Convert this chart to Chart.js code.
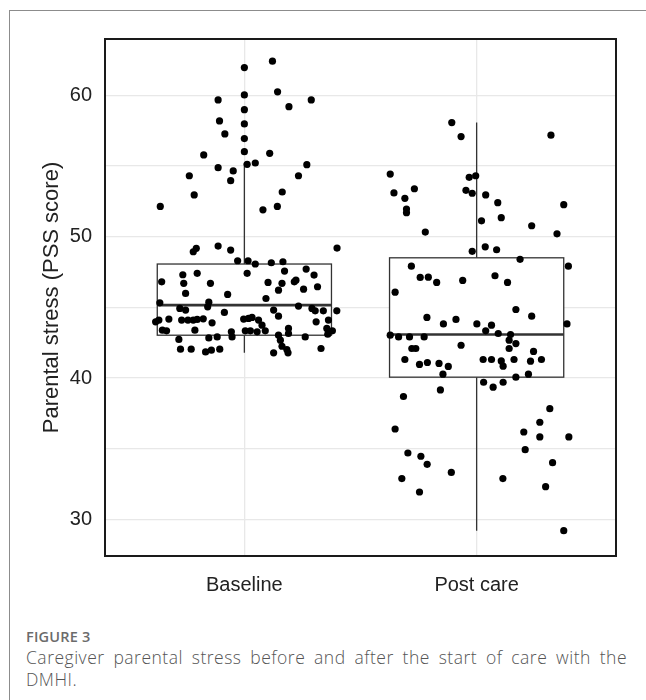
<!DOCTYPE html>
<html lang="en">
<head>
  <meta charset="UTF-8">
  <title>Parental stress box plot</title>
  <script src="https://cdn.jsdelivr.net/npm/chart.js"></script>
  <style>
    html, body { margin: 0; padding: 0; background: #fff; }
    body { width: 646px; height: 700px; position: relative; overflow: hidden; }
    .card {
      position: absolute; left: 9px; top: 10px; right: -2px; bottom: -2px;
      border-left: 1px solid #8c8c8c; border-top: 1px solid #8c8c8c;
    }
    #stressChart { position: absolute; left: 0; top: 0; }
    .fig-label {
      position: absolute; left: 26px; top: 627px;
      font-family: "Open Sans", sans-serif; font-size: 14.5px; font-weight: 600;
      color: #6b6b6b; letter-spacing: 0.2px;
    }
    .fig-caption {
      position: absolute; left: 26px; top: 646px; width: 601px;
      font-family: "Open Sans", sans-serif; font-size: 17.5px; font-weight: 300;
      line-height: 22px; color: #555; text-align: justify; letter-spacing: 0.5px;
    }
  </style>
</head>
<body>
  <div class="card"></div>
  <canvas id="stressChart" width="646" height="620"></canvas>
  <div class="fig-label">FIGURE 3</div>
  <div class="fig-caption">Caregiver parental stress before and after the start of care with the DMHI.</div>

  <script>
    // categories and axis ticks
    const categories = ['Baseline', 'Post care'];
    const yGridValues = [30, 35, 40, 45, 50, 55, 60];
    const yTickLabels = [30, 40, 50, 60];

    // box plot summaries (one entry per category)
    const whiskerLow = [41.78, 29.19];
    const boxQ1 = [43.03, 40.06];
    const boxMedian = [45.16, 43.08];
    const boxQ3 = [48.07, 48.51];
    const whiskerHigh = [55.22, 58.08];

    // jittered points: horizontal jitter (in category units) and PSS score
    const baselineJitter = [
      0.121, 0, 0.143, 0, -0.113, 0.288, 0.192, 0, -0.107, 0, -0.084, 0, -0.175, 0,
      0.109, 0.012, 0.047, 0.269, -0.113, -0.048, -0.237, 0.233, -0.059, 0.163, -0.216, -0.362, 0.142, 0.080,
      -0.220, -0.207, -0.113, -0.059, 0.399, -0.029, 0.016, 0.047, 0.116, 0.166,
      -0.265, -0.261, -0.203, -0.146, -0.356, 0.012, -0.253, -0.072, 0.173, 0.266,
      0.300, 0.102, 0.162, 0.147, 0.222, 0.215, 0.255, 0.315, 0.093, -0.364,
      -0.153, -0.158, -0.278, -0.253, -0.086, 0.233, 0.126, 0.147, 0.291, 0.305,
      0.340, 0.398, -0.325, -0.382, -0.368, -0.270, -0.243, -0.220, -0.203, -0.177,
      -0.139, -0.003, 0.018, 0.033, 0.061, 0.076, 0.309, 0.362, 0.355, 0.379,
      0.359, -0.353, -0.335, -0.213, -0.056, -0.053, -0.153, -0.117, -0.282, 0.004,
      0.026, 0.055, 0.090, 0.190, 0.190, 0.147, 0.155, 0.262, -0.275, -0.229,
      -0.167, -0.142, -0.106, 0.162, 0.183, 0.188, 0.126, 0.330
    ];
    const baselineScores = [
      62.43, 61.98, 60.26, 60.04, 59.69, 59.69, 59.21, 59.00, 58.20, 57.99, 57.28, 56.95, 55.79, 56.02,
      55.91, 55.13, 55.22, 55.10, 54.89, 54.66, 54.32, 54.32, 53.97, 53.17, 52.96, 52.15, 52.15, 51.91,
      48.94, 49.18, 49.34, 49.06, 49.20, 48.30, 48.30, 48.07, 48.16, 48.23,
      47.31, 46.70, 47.41, 46.70, 46.81, 47.41, 45.99, 45.92, 47.57, 47.71,
      47.29, 46.77, 46.70, 46.22, 46.93, 46.81, 46.29, 46.46, 45.63, 45.32,
      45.37, 45.04, 44.93, 44.81, 44.64, 45.09, 44.81, 44.38, 44.93, 44.76,
      44.76, 44.76, 44.17, 43.98, 44.10, 44.10, 44.10, 44.10, 44.15, 44.19,
      43.91, 44.17, 44.22, 44.29, 44.10, 43.74, 43.98, 44.10, 43.51, 43.34,
      43.10, 43.39, 43.34, 43.39, 43.27, 42.91, 42.84, 42.91, 42.73, 43.34,
      43.34, 43.27, 43.34, 43.51, 43.15, 43.03, 42.68, 42.91, 42.04, 42.04,
      41.85, 41.97, 42.04, 42.25, 42.02, 41.78, 41.78, 42.09
    ];

    const postJitter = [
      -0.107, -0.067, 0.320, -0.372, -0.032, -0.004, -0.268, -0.356, -0.046, -0.019,
      0.039, -0.309, 0.091, 0.375, -0.302, -0.302, 0.021, 0.106, 0.237, -0.221,
      0.346, 0.037, 0.086, -0.019, 0.187, -0.281, 0.395,
      -0.243, -0.208, -0.172, -0.060, 0.079, 0.133, -0.351, 0.169, 0.237, -0.214,
      -0.089, -0.143, 0.001, 0.064, 0.039, 0.389, 0.093, 0.146, -0.372, -0.336,
      -0.289, -0.226, 0.140, 0.169, 0.140, -0.067, -0.279, -0.262, 0.245, -0.309,
      -0.212, -0.246, -0.162, -0.122, 0.028, 0.064, 0.106, 0.114, 0.161, 0.232,
      0.279, -0.145, 0.169, 0.223, 0.030, 0.071, 0.114, -0.156, -0.315, 0.315,
      0.272, -0.351, 0.203, 0.272, 0.397, 0.209, -0.296, -0.240, -0.213, 0.327,
      -0.109, -0.322, 0.113, 0.297, -0.246, 0.375
    ];
    const postScores = [
      58.08, 57.09, 57.19, 54.44, 54.21, 54.32, 53.40, 53.10, 53.29, 53.08,
      52.96, 52.72, 52.41, 52.27, 51.96, 51.70, 51.13, 51.35, 50.78, 50.33,
      50.21, 49.29, 49.08, 48.97, 48.40, 47.92, 47.92,
      47.12, 47.14, 46.77, 46.91, 47.24, 46.77, 46.08, 44.85, 44.38, 44.29,
      44.15, 43.83, 43.83, 43.74, 43.34, 43.83, 43.15, 43.08, 43.03, 42.91,
      42.91, 42.91, 42.68, 42.44, 42.09, 42.32, 42.09, 42.09, 41.88, 41.31,
      41.10, 40.96, 41.03, 40.82, 41.31, 41.31, 41.21, 40.84, 41.31, 41.19,
      41.31, 40.27, 40.06, 40.27, 39.70, 39.35, 39.70, 39.16, 38.69, 37.83,
      36.87, 36.39, 36.18, 35.83, 35.83, 34.93, 34.69, 34.46, 33.89, 34.01,
      33.32, 32.88, 32.88, 32.31, 31.93, 29.19
    ];

    const boxWidth = 0.75;
    const ink = '#333333';

    function toPoints(center, jitter, scores) {
      return scores.map((s, i) => ({ x: center + jitter[i], y: s }));
    }

    // draws ggplot-style boxes under the points
    const boxPlotPlugin = {
      id: 'boxPlot',
      beforeDatasetsDraw(chart) {
        const ctx = chart.ctx;
        const xs = chart.scales.x;
        const ys = chart.scales.y;
        ctx.save();
        categories.forEach((cat, i) => {
          const cx = xs.getPixelForValue(i + 1);
          const left = xs.getPixelForValue(i + 1 - boxWidth / 2);
          const right = xs.getPixelForValue(i + 1 + boxWidth / 2);
          const yQ1 = ys.getPixelForValue(boxQ1[i]);
          const yQ3 = ys.getPixelForValue(boxQ3[i]);
          const yMed = ys.getPixelForValue(boxMedian[i]);
          ctx.strokeStyle = ink;
          ctx.lineWidth = 1.3;
          ctx.beginPath();
          ctx.moveTo(cx, ys.getPixelForValue(whiskerHigh[i]));
          ctx.lineTo(cx, yQ3);
          ctx.moveTo(cx, yQ1);
          ctx.lineTo(cx, ys.getPixelForValue(whiskerLow[i]));
          ctx.stroke();
          ctx.fillStyle = '#ffffff';
          ctx.fillRect(left, yQ3, right - left, yQ1 - yQ3);
          ctx.strokeRect(left, yQ3, right - left, yQ1 - yQ3);
          ctx.lineWidth = 2.6;
          ctx.beginPath();
          ctx.moveTo(left, yMed);
          ctx.lineTo(right, yMed);
          ctx.stroke();
        });
        ctx.restore();
      },
      afterDraw(chart) {
        const a = chart.chartArea;
        const ctx = chart.ctx;
        ctx.save();
        ctx.strokeStyle = '#1a1a1a';
        ctx.lineWidth = 2;
        ctx.strokeRect(a.left, a.top, a.right - a.left, a.bottom - a.top);
        ctx.restore();
      }
    };

    const ctx = document.getElementById('stressChart').getContext('2d');
    new Chart(ctx, {
      type: 'scatter',
      data: {
        datasets: [
          {
            label: categories[0],
            data: toPoints(1, baselineJitter, baselineScores),
            backgroundColor: '#000',
            borderWidth: 0,
            pointRadius: 3.6
          },
          {
            label: categories[1],
            data: toPoints(2, postJitter, postScores),
            backgroundColor: '#000',
            borderWidth: 0,
            pointRadius: 3.6
          }
        ]
      },
      options: {
        responsive: false,
        devicePixelRatio: 1,
        animation: false,
        layout: { padding: { left: 0, top: 39, right: 30, bottom: 0 } },
        plugins: {
          legend: { display: false },
          tooltip: { enabled: false }
        },
        scales: {
          x: {
            type: 'linear',
            min: 0.4,
            max: 2.6,
            afterBuildTicks: (scale) => { scale.ticks = categories.map((c, i) => ({ value: i + 1 })); },
            afterFit: (scale) => { scale.height = 64; },
            ticks: {
              callback: (v) => categories[v - 1],
              color: '#222',
              font: { family: 'Liberation Sans, Arial, sans-serif', size: 20 },
              padding: 17,
              maxRotation: 0,
              autoSkip: false
            },
            grid: { color: '#e8e8e8', lineWidth: 1.3, drawTicks: false },
            border: { display: false }
          },
          y: {
            min: 27.4,
            max: 64,
            afterBuildTicks: (scale) => { scale.ticks = yGridValues.map(v => ({ value: v })); },
            afterFit: (scale) => { scale.width = 105; },
            ticks: {
              callback: (v) => yTickLabels.includes(v) ? String(v) : '',
              color: '#222',
              font: { family: 'Liberation Sans, Arial, sans-serif', size: 20 },
              padding: 13,
              autoSkip: false
            },
            grid: { color: '#e8e8e8', lineWidth: 1.3, drawTicks: false },
            border: { display: false },
            title: {
              display: true,
              text: 'Parental stress (PSS score)',
              color: '#222',
              font: { family: 'Liberation Sans, Arial, sans-serif', size: 22 },
              padding: { top: 39, bottom: 0 }
            }
          }
        }
      },
      plugins: [boxPlotPlugin]
    });
  </script>
</body>
</html>
